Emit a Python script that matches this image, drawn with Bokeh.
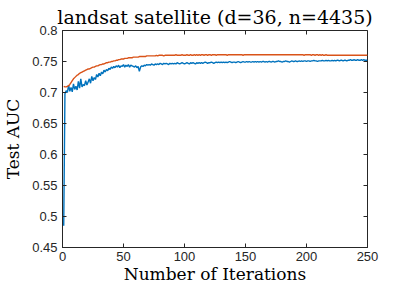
import math
from bokeh.plotting import figure
from bokeh.models import Range1d, FixedTicker
from bokeh.embed import file_html
from bokeh.resources import INLINE

# ---- data ----
iterations = list(range(1, 251))

blue_auc = [
    0.485, 0.698, 0.703, 0.700, 0.712, 0.702, 0.708, 0.701, 0.714, 0.705,
    0.710, 0.704, 0.718, 0.707, 0.722, 0.709, 0.713, 0.711, 0.719, 0.712,
    0.717, 0.722, 0.715, 0.726, 0.719, 0.724, 0.721, 0.729, 0.725, 0.731,
    0.727, 0.733, 0.730, 0.736, 0.733, 0.737, 0.735, 0.739, 0.737, 0.741,
    0.739, 0.742, 0.740, 0.743, 0.741, 0.744, 0.740, 0.743, 0.742, 0.745,
    0.741, 0.744, 0.742, 0.745, 0.741, 0.744, 0.743, 0.742, 0.741, 0.743,
    0.740, 0.742, 0.734, 0.741, 0.743, 0.742, 0.744, 0.743, 0.745, 0.744,
    0.745, 0.744, 0.746, 0.745, 0.744, 0.746, 0.745, 0.746, 0.745, 0.747,
    0.746, 0.745, 0.747, 0.746, 0.747, 0.746, 0.745, 0.747, 0.746, 0.747,
    0.746, 0.747, 0.746, 0.748, 0.747, 0.746, 0.747, 0.748, 0.747, 0.746,
    0.747, 0.748, 0.747, 0.746, 0.748, 0.747, 0.748, 0.747, 0.746, 0.748,
    0.747, 0.748, 0.747, 0.748, 0.747, 0.748, 0.749, 0.748, 0.747, 0.748,
    0.748, 0.749, 0.748, 0.747, 0.748, 0.749, 0.748, 0.749, 0.748, 0.749,
    0.748, 0.749, 0.748, 0.749, 0.748, 0.749, 0.750, 0.749, 0.748, 0.749,
    0.749, 0.748, 0.749, 0.750, 0.749, 0.748, 0.749, 0.750, 0.749, 0.749,
    0.750, 0.749, 0.750, 0.749, 0.749, 0.750, 0.749, 0.750, 0.749, 0.750,
    0.749, 0.750, 0.749, 0.750, 0.750, 0.749, 0.750, 0.749, 0.750, 0.750,
    0.749, 0.750, 0.750, 0.749, 0.750, 0.750, 0.751, 0.750, 0.750, 0.749,
    0.750, 0.750, 0.751, 0.750, 0.750, 0.749, 0.750, 0.751, 0.750, 0.750,
    0.751, 0.750, 0.750, 0.751, 0.750, 0.751, 0.750, 0.751, 0.751, 0.750,
    0.751, 0.751, 0.750, 0.751, 0.751, 0.752, 0.751, 0.751, 0.750, 0.751,
    0.751, 0.751, 0.752, 0.751, 0.751, 0.752, 0.751, 0.752, 0.751, 0.751,
    0.752, 0.751, 0.752, 0.751, 0.752, 0.752, 0.751, 0.752, 0.752, 0.751,
    0.752, 0.752, 0.751, 0.752, 0.752, 0.753, 0.752, 0.752, 0.753, 0.752,
    0.752, 0.753, 0.752, 0.752, 0.753, 0.752, 0.753, 0.752, 0.752, 0.752,
]

orange_auc = [
    0.710, 0.709, 0.709, 0.710, 0.711, 0.713, 0.716, 0.719, 0.722, 0.724,
    0.726, 0.728, 0.729, 0.731, 0.732, 0.733, 0.734, 0.735, 0.736, 0.737,
    0.738, 0.738, 0.739, 0.740, 0.741, 0.741, 0.742, 0.743, 0.743, 0.744,
    0.745, 0.745, 0.746, 0.746, 0.747, 0.748, 0.748, 0.749, 0.749, 0.750,
    0.750, 0.751, 0.751, 0.752, 0.752, 0.753, 0.753, 0.754, 0.754, 0.754,
    0.755, 0.755, 0.755, 0.756, 0.756, 0.756, 0.756, 0.757, 0.757, 0.757,
    0.757, 0.757, 0.758, 0.758, 0.758, 0.758, 0.758, 0.758, 0.759, 0.759,
    0.759, 0.759, 0.759, 0.759, 0.759, 0.759, 0.760, 0.759, 0.760, 0.760,
    0.760, 0.760, 0.759, 0.760, 0.760, 0.760, 0.760, 0.760, 0.760, 0.760,
    0.760, 0.760, 0.761, 0.760, 0.760, 0.760, 0.760, 0.761, 0.760, 0.760,
    0.760, 0.761, 0.760, 0.760, 0.761, 0.760, 0.760, 0.761, 0.760, 0.761,
    0.760, 0.761, 0.760, 0.761, 0.761, 0.760, 0.761, 0.761, 0.760, 0.761,
    0.761, 0.760, 0.761, 0.761, 0.761, 0.760, 0.761, 0.761, 0.761, 0.761,
    0.761, 0.761, 0.761, 0.761, 0.760, 0.761, 0.761, 0.761, 0.761, 0.761,
    0.761, 0.761, 0.761, 0.761, 0.761, 0.761, 0.761, 0.760, 0.761, 0.761,
    0.761, 0.761, 0.761, 0.761, 0.761, 0.761, 0.761, 0.761, 0.761, 0.761,
    0.761, 0.761, 0.761, 0.761, 0.761, 0.761, 0.761, 0.761, 0.761, 0.761,
    0.761, 0.761, 0.761, 0.761, 0.761, 0.761, 0.761, 0.761, 0.761, 0.761,
    0.761, 0.761, 0.761, 0.761, 0.761, 0.761, 0.761, 0.761, 0.761, 0.761,
    0.761, 0.761, 0.761, 0.761, 0.761, 0.761, 0.761, 0.760, 0.761, 0.761,
    0.761, 0.761, 0.761, 0.760, 0.761, 0.761, 0.760, 0.761, 0.761, 0.760,
    0.761, 0.760, 0.761, 0.760, 0.760, 0.761, 0.760, 0.760, 0.760, 0.760,
    0.760, 0.760, 0.760, 0.760, 0.760, 0.760, 0.760, 0.760, 0.760, 0.760,
    0.760, 0.760, 0.760, 0.760, 0.760, 0.760, 0.760, 0.760, 0.760, 0.760,
    0.760, 0.760, 0.760, 0.760, 0.760, 0.760, 0.760, 0.760, 0.760, 0.760,
]

x_ticks = [0, 50, 100, 150, 200, 250]
x_tick_labels = ["0", "50", "100", "150", "200", "250"]
y_ticks = [0.45, 0.5, 0.55, 0.6, 0.65, 0.7, 0.75, 0.8]
y_tick_labels = ["0.45", "0.5", "0.55", "0.6", "0.65", "0.7", "0.75", "0.8"]

title_text = "landsat satellite (d=36, n=4435)"
x_label = "Number of Iterations"
y_label = "Test AUC"

BLUE = "#0072BD"
ORANGE = "#D95319"
AXC = "#262626"

p = figure(frame_width=305, frame_height=217, output_backend="svg",
           toolbar_location=None,
           x_range=Range1d(x_ticks[0], x_ticks[-1]),
           y_range=Range1d(y_ticks[0], y_ticks[-1]),
           min_border_left=61, min_border_right=23, min_border_top=30,
           min_border_bottom=34, title=title_text)

p.line(iterations, blue_auc, color=BLUE, line_width=1.4)
p.line(iterations, orange_auc, color=ORANGE, line_width=1.4)

# inward tick marks on top and right edges of the box (clipped to the frame)
p.scatter(x=x_ticks, y=[y_ticks[-1]] * len(x_ticks), marker="dash", size=8,
          angle=math.pi / 2, line_color=AXC, line_width=1)
p.scatter(x=[x_ticks[-1]] * len(y_ticks), y=y_ticks, marker="dash", size=8,
          line_color=AXC, line_width=1)

p.grid.visible = False
p.outline_line_color = AXC
p.outline_line_width = 1

p.title.text_font = "DejaVu Serif"
p.title.text_font_size = "19px"
p.title.text_font_style = "normal"
p.title.text_color = "#000000"
p.title.align = "center"
p.title.standoff = 6
p.title.offset = 0

for ax in (p.xaxis[0], p.yaxis[0]):
    ax.axis_line_color = AXC
    ax.major_tick_line_color = AXC
    ax.major_tick_in = 4
    ax.major_tick_out = 0
    ax.minor_tick_line_color = None
    ax.major_label_text_font = "Liberation Sans"
    ax.major_label_text_font_size = "13px"
    ax.major_label_text_color = AXC
    ax.axis_label_text_font = "DejaVu Serif"
    ax.axis_label_text_font_size = "17px"
    ax.axis_label_text_font_style = "normal"
    ax.axis_label_text_color = "#000000"

xa = p.xaxis[0]
ya = p.yaxis[0]
xa.ticker = FixedTicker(ticks=x_ticks)
ya.ticker = FixedTicker(ticks=y_ticks)
xa.major_label_overrides = dict(zip(x_ticks, x_tick_labels))
ya.major_label_overrides = dict(zip(y_ticks, y_tick_labels))
xa.axis_label = x_label
ya.axis_label = y_label
xa.major_label_standoff = 4
ya.major_label_standoff = 5
xa.axis_label_standoff = 0
ya.axis_label_standoff = 6

open("out.html", "w").write(file_html(p, INLINE))
